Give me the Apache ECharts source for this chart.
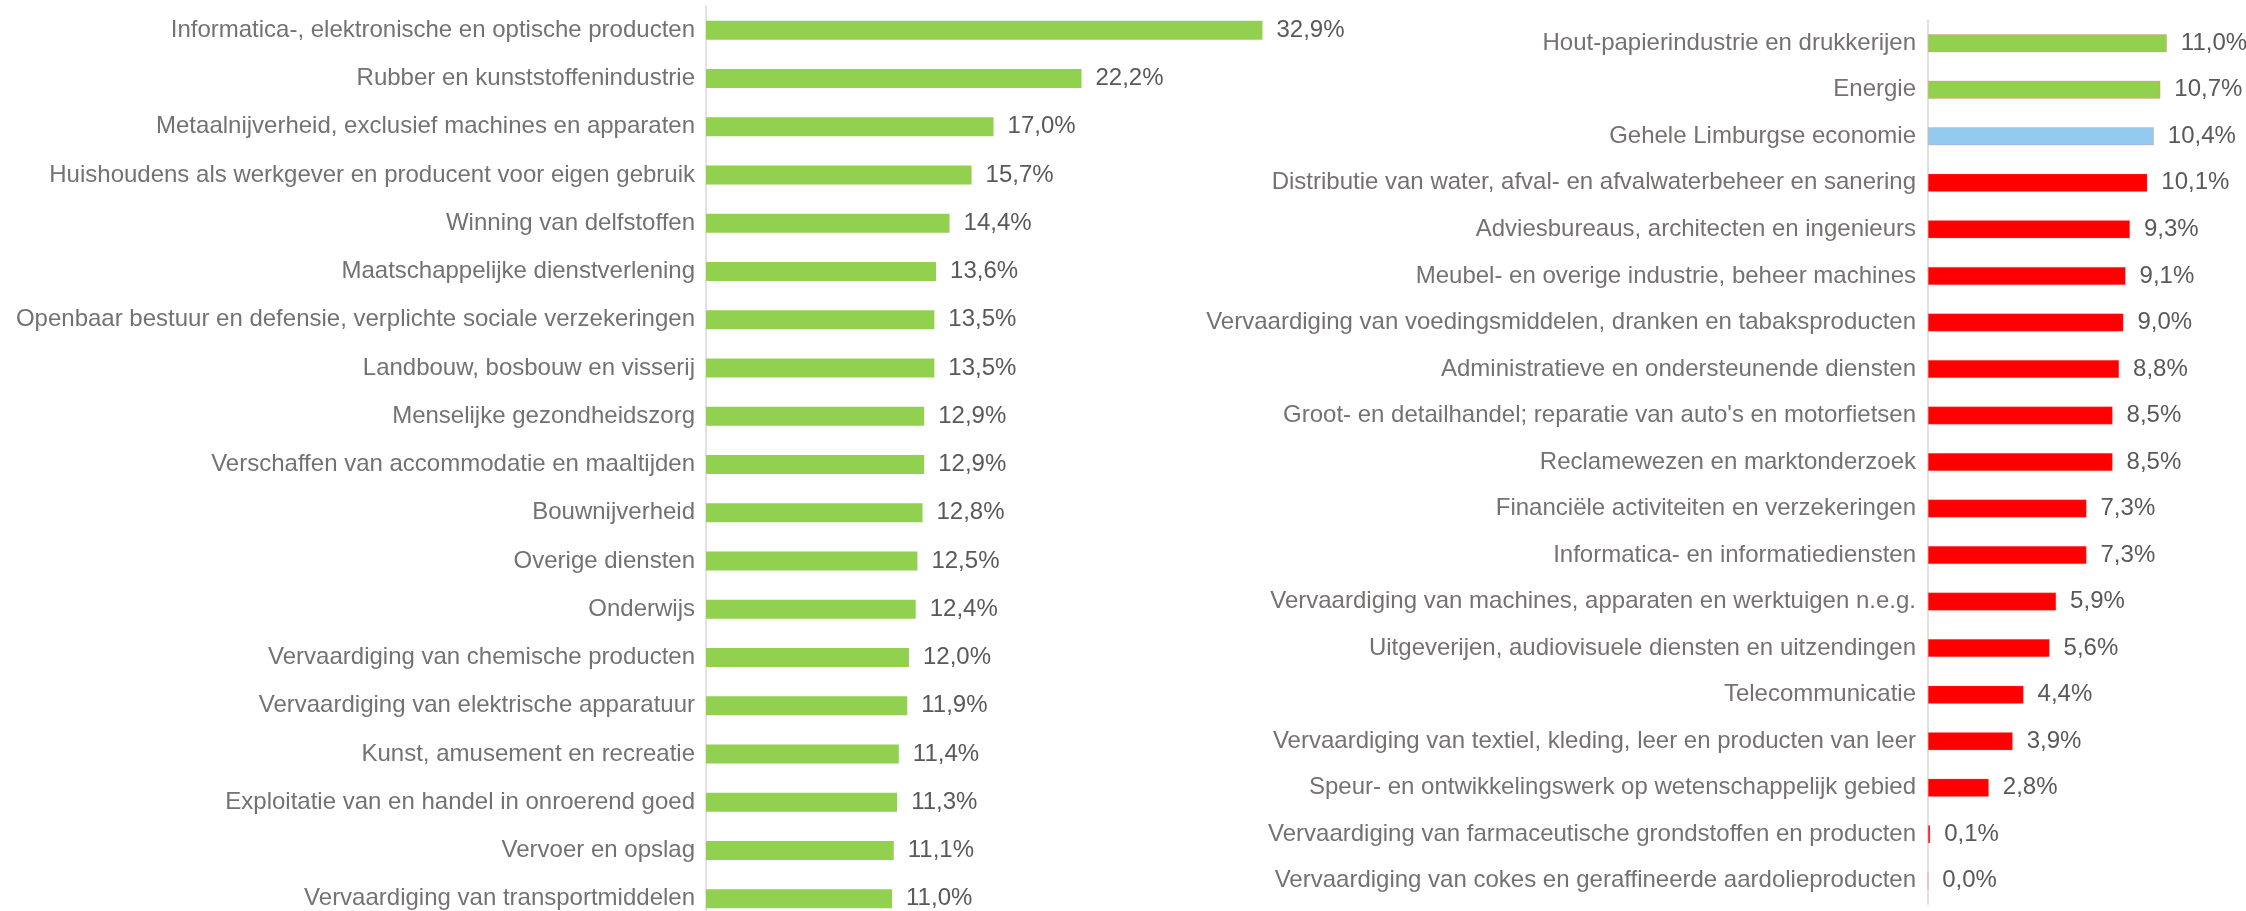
<!DOCTYPE html>
<html>
<head>
<meta charset="utf-8">
<script src="https://cdn.jsdelivr.net/npm/echarts@6/dist/echarts.min.js"></script>
<style>
  html, body { margin: 0; padding: 0; background: #fff; }
  #chart { width: 2246px; height: 911px; }
</style>
</head>
<body>
<div id="chart"></div>
<script>
// sectoren links (alle boven het Limburgse gemiddelde)
var leftCats = [
  'Informatica-, elektronische en optische producten',
  'Rubber en kunststoffenindustrie',
  'Metaalnijverheid, exclusief machines en apparaten',
  'Huishoudens als werkgever en producent voor eigen gebruik',
  'Winning van delfstoffen',
  'Maatschappelijke dienstverlening',
  'Openbaar bestuur en defensie, verplichte sociale verzekeringen',
  'Landbouw, bosbouw en visserij',
  'Menselijke gezondheidszorg',
  'Verschaffen van accommodatie en maaltijden',
  'Bouwnijverheid',
  'Overige diensten',
  'Onderwijs',
  'Vervaardiging van chemische producten',
  'Vervaardiging van elektrische apparatuur',
  'Kunst, amusement en recreatie',
  'Exploitatie van en handel in onroerend goed',
  'Vervoer en opslag',
  'Vervaardiging van transportmiddelen'
];
var leftVals = [32.9, 22.2, 17.0, 15.7, 14.4, 13.6, 13.5, 13.5, 12.9, 12.9, 12.8, 12.5, 12.4, 12.0, 11.9, 11.4, 11.3, 11.1, 11.0];

// sectoren rechts
var rightCats = [
  'Hout-papierindustrie en drukkerijen',
  'Energie',
  'Gehele Limburgse economie',
  'Distributie van water, afval- en afvalwaterbeheer en sanering',
  'Adviesbureaus, architecten en ingenieurs',
  'Meubel- en overige industrie, beheer machines',
  'Vervaardiging van voedingsmiddelen, dranken en tabaksproducten',
  'Administratieve en ondersteunende diensten',
  "Groot- en detailhandel; reparatie van auto's en motorfietsen",
  'Reclamewezen en marktonderzoek',
  'Financiële activiteiten en verzekeringen',
  'Informatica- en informatiediensten',
  'Vervaardiging van machines, apparaten en werktuigen n.e.g.',
  'Uitgeverijen, audiovisuele diensten en uitzendingen',
  'Telecommunicatie',
  'Vervaardiging van textiel, kleding, leer en producten van leer',
  'Speur- en ontwikkelingswerk op wetenschappelijk gebied',
  'Vervaardiging van farmaceutische grondstoffen en producten',
  'Vervaardiging van cokes en geraffineerde aardolieproducten'
];
var rightVals = [11.0, 10.7, 10.4, 10.1, 9.3, 9.1, 9.0, 8.8, 8.5, 8.5, 7.3, 7.3, 5.9, 5.6, 4.4, 3.9, 2.8, 0.1, 0.0];

var totalName = 'Gehele Limburgse economie';
var GREEN = '#92D050', BLUE = '#93CBEE', RED = '#FF0000';
var FONT = '"Liberation Sans", Arial, sans-serif';

var totalVal = rightVals[rightCats.indexOf(totalName)];

function pct(p) {
  return p.value.toFixed(1).replace('.', ',') + '%';
}

function rightColor(p) {
  if (p.name === totalName) return BLUE;
  return p.value > totalVal ? GREEN : RED;
}

var catAxis = function (idx, cats, margin) {
  return {
    type: 'category', gridIndex: idx, data: cats, inverse: true,
    axisLine: { show: true, lineStyle: { color: '#D9D9D9', width: 1.5 } },
    axisTick: { show: false },
    axisLabel: { color: '#767171', fontSize: 24, fontFamily: FONT, margin: margin }
  };
};

var valAxis = function (idx, max) {
  return {
    type: 'value', gridIndex: idx, min: 0, max: max,
    show: false, splitLine: { show: false }
  };
};

var labelCfg = {
  show: true, position: 'right', distance: 14,
  color: '#595959', fontSize: 24, fontFamily: FONT, formatter: pct
};

var chart = echarts.init(document.getElementById('chart'));
chart.setOption({
  animation: false,
  backgroundColor: '#fff',
  grid: [
    { left: 706, top: 6, width: 592, height: 917, outerBoundsMode: 'none' },
    { left: 1928, top: 20, width: 304, height: 884, outerBoundsMode: 'none' }
  ],
  xAxis: [valAxis(0, 35), valAxis(1, 14)],
  yAxis: [catAxis(0, leftCats, 11), catAxis(1, rightCats, 12)],
  series: [
    {
      type: 'bar', xAxisIndex: 0, yAxisIndex: 0, data: leftVals,
      barWidth: 19, itemStyle: { color: GREEN }, label: labelCfg
    },
    {
      type: 'bar', xAxisIndex: 1, yAxisIndex: 1, data: rightVals,
      barWidth: 18,
      itemStyle: { color: rightColor, borderColor: 'rgba(255,120,120,0.6)', borderWidth: 0.5 },
      label: labelCfg
    }
  ]
});
</script>
</body>
</html>
